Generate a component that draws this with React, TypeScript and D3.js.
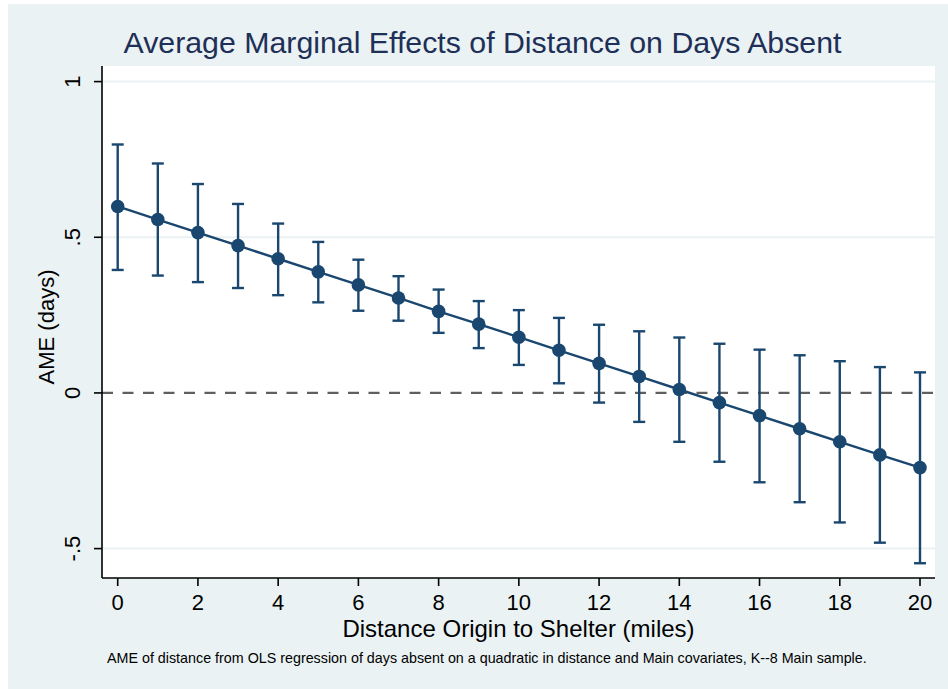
import React from "react";
import * as d3 from "d3";

const distances = [0, 1, 2, 3, 4, 5, 6, 7, 8, 9, 10, 11, 12, 13, 14, 15, 16, 17, 18, 19, 20];
const ame = [0.599, 0.557, 0.515, 0.473, 0.431, 0.389, 0.347, 0.305, 0.262, 0.221, 0.179, 0.137, 0.095, 0.053, 0.011, -0.031, -0.073, -0.115, -0.157, -0.199, -0.24];
const upper = [0.798, 0.737, 0.671, 0.607, 0.544, 0.485, 0.428, 0.375, 0.332, 0.295, 0.266, 0.241, 0.219, 0.198, 0.178, 0.158, 0.139, 0.121, 0.102, 0.083, 0.066];
const lower = [0.395, 0.377, 0.356, 0.337, 0.314, 0.291, 0.264, 0.232, 0.193, 0.144, 0.09, 0.031, -0.031, -0.093, -0.157, -0.221, -0.287, -0.351, -0.416, -0.481, -0.547];
const xTicks = [0, 2, 4, 6, 8, 10, 12, 14, 16, 18, 20];
const yTicks = [-0.5, 0, 0.5, 1];
const yTickLabels = ["-.5", "0", ".5", "1"];

const title = "Average Marginal Effects of Distance on Days Absent";
const xTitle = "Distance Origin to Shelter (miles)";
const yTitle = "AME (days)";
const caption = "AME of distance from OLS regression of days absent on a quadratic in distance and Main covariates, K--8 Main sample.";

const W = 948;
const H = 689;
const plot = { left: 102, right: 935, top: 66, bottom: 578 };
const BG = "#EAF2F3";
const NAVY = "#1a476f";
const FONT = "'Liberation Sans', Arial, Helvetica, sans-serif";

export default function App() {
  const x = d3.scaleLinear().domain([0, 20]).range([117.7, 920]);
  const y = d3.scaleLinear().domain([-0.5, 1]).range([548.6, 81.6]);
  const data = distances.map((d, i) => ({ d, v: ame[i], hi: upper[i], lo: lower[i] }));
  const line = d3
    .line<{ d: number; v: number }>()
    .x((p) => x(p.d))
    .y((p) => y(p.v));
  const cap = 6;

  return (
    <svg
      width={W}
      height={H}
      style={{ position: "absolute", left: 0, top: 0, display: "block" }}
      fontFamily={FONT}
    >
      <rect x={0} y={0} width={W} height={H} fill="#ffffff" />
      <rect x={8} y={4} width={W - 8} height={H - 4} fill={BG} />
      <rect
        x={plot.left}
        y={plot.top}
        width={plot.right - plot.left}
        height={plot.bottom - plot.top}
        fill="#ffffff"
      />
      {/* gridlines */}
      {yTicks
        .filter((t) => t !== 0)
        .map((t) => (
          <line
            key={"g" + t}
            x1={plot.left}
            x2={plot.right}
            y1={y(t)}
            y2={y(t)}
            stroke={BG}
            strokeWidth={2}
          />
        ))}
      {/* zero reference */}
      <line
        x1={plot.left}
        x2={plot.right}
        y1={y(0)}
        y2={y(0)}
        stroke="#5f5f5f"
        strokeWidth={2.2}
        strokeDasharray="11,9.5"
      />
      {/* error bars */}
      {data.map((p) => (
        <g key={"e" + p.d} stroke={NAVY} strokeWidth={2.4}>
          <line x1={x(p.d)} x2={x(p.d)} y1={y(p.hi)} y2={y(p.lo)} />
          <line x1={x(p.d) - cap} x2={x(p.d) + cap} y1={y(p.hi)} y2={y(p.hi)} />
          <line x1={x(p.d) - cap} x2={x(p.d) + cap} y1={y(p.lo)} y2={y(p.lo)} />
        </g>
      ))}
      <path d={line(data) || ""} fill="none" stroke={NAVY} strokeWidth={2.4} />
      {data.map((p) => (
        <circle key={"c" + p.d} cx={x(p.d)} cy={y(p.v)} r={6.8} fill={NAVY} />
      ))}
      {/* axes */}
      <line x1={plot.left} x2={plot.left} y1={plot.top} y2={plot.bottom} stroke="#000" strokeWidth={1.6} />
      <line x1={plot.left} x2={plot.right} y1={plot.bottom} y2={plot.bottom} stroke="#000" strokeWidth={1.6} />
      {yTicks.map((t, i) => (
        <g key={"yt" + t}>
          <line x1={plot.left - 8} x2={plot.left} y1={y(t)} y2={y(t)} stroke="#000" strokeWidth={1.6} />
          <text
            transform={`translate(80,${y(t)}) rotate(-90)`}
            textAnchor="middle"
            fontSize={22}
            fill="#000"
          >
            {yTickLabels[i]}
          </text>
        </g>
      ))}
      {xTicks.map((t) => (
        <g key={"xt" + t}>
          <line x1={x(t)} x2={x(t)} y1={plot.bottom} y2={plot.bottom + 8} stroke="#000" strokeWidth={1.6} />
          <text x={x(t)} y={610} textAnchor="middle" fontSize={22} fill="#000">
            {t}
          </text>
        </g>
      ))}
      <text transform="translate(53.5,327) rotate(-90)" textAnchor="middle" fontSize={22} fill="#000">
        {yTitle}
      </text>
      <text x={518.5} y={637} textAnchor="middle" fontSize={24} fill="#000">
        {xTitle}
      </text>
      <text x={482.5} y={53} textAnchor="middle" fontSize={30.3} fill="#1e2f58">
        {title}
      </text>
      <text x={107} y={663} fontSize={14.3} fill="#000">
        {caption}
      </text>
    </svg>
  );
}
